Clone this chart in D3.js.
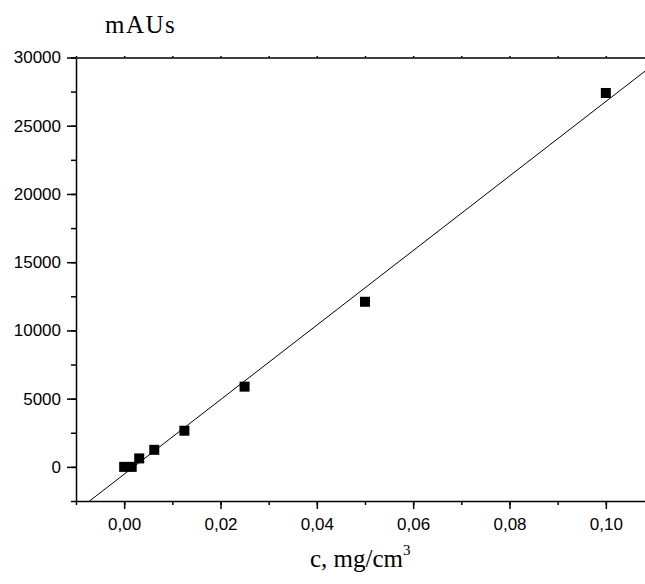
<!DOCTYPE html>
<html>
<head>
<meta charset="utf-8">
<script src="https://cdn.jsdelivr.net/npm/d3@7"></script>
<style>
  body { margin: 0; background: #fff; }
  svg { display: block; }
  .axis text { font-family: "Liberation Sans", Arial, sans-serif; font-size: 17px; fill: #000; }
  .axis path, .axis line { stroke: #000; stroke-width: 1.5; }
</style>
</head>
<body>
<svg id="chart" width="645" height="584"></svg>
<script>
// concentration (mg/cm3) and peak area (mAUs)
var conc = [0, 0.0015625, 0.003125, 0.00625, 0.0125, 0.025, 0.05, 0.1];
var area = [0, 0, 620, 1250, 2650, 5880, 12100, 27400];
var xTicks = [0, 0.02, 0.04, 0.06, 0.08, 0.10];
var yTicks = [0, 5000, 10000, 15000, 20000, 25000, 30000];

(function drawChart() {
  var svg = d3.select("#chart"),
    left = 76, right = 654, top = 57.5, bottom = 501;

  var x = d3.scaleLinear().domain([-0.01, 0.11]).range([left, right]),
    y = d3.scaleLinear().domain([-2500, 30000]).range([bottom, top]);

  var fmt = function (d) { return d3.format(".2f")(d).replace(".", ","); };

  // minor ticks first (no labels)
  svg.append("g")
    .attr("class", "axis")
    .attr("transform", "translate(0," + bottom + ")")
    .call(d3.axisBottom(x).tickValues(d3.range(-0.01, 0.111, 0.01)).tickSize(4).tickFormat("").tickSizeOuter(0));
  svg.append("g")
    .attr("class", "axis")
    .attr("transform", "translate(" + left + ",0)")
    .call(d3.axisLeft(y).tickValues(d3.range(-2500, 30001, 2500)).tickSize(5).tickFormat("").tickSizeOuter(0));

  // major ticks
  var xAxis = svg.append("g")
    .attr("class", "axis")
    .attr("transform", "translate(0," + bottom + ")")
    .call(d3.axisBottom(x).tickValues(xTicks).tickSize(8).tickPadding(9).tickFormat(fmt).tickSizeOuter(0));
  xAxis.select(".domain").remove();

  var yAxis = svg.append("g")
    .attr("class", "axis")
    .attr("transform", "translate(" + left + ",0)")
    .call(d3.axisLeft(y).tickValues(yTicks).tickSize(9).tickPadding(6).tickFormat(d3.format("d")).tickSizeOuter(0));
  yAxis.select(".domain").remove();

  // top axis with tiny ticks
  svg.append("g")
    .attr("class", "axis")
    .attr("transform", "translate(0," + top + ")")
    .call(d3.axisTop(x).tickValues(d3.range(-0.01, 0.111, 0.01)).tickSize(1.5).tickFormat("").tickSizeOuter(0));

  // linear fit
  var mx = d3.mean(conc), my = d3.mean(area);
  var sxy = d3.sum(conc, function (c, i) { return (c - mx) * (area[i] - my); }),
    sxx = d3.sum(conc, function (c) { return (c - mx) * (c - mx); });
  var slope = sxy / sxx, icept = my - slope * mx;

  svg.append("clipPath").attr("id", "clip")
    .append("rect").attr("x", left).attr("y", top).attr("width", right - left).attr("height", bottom - top);

  svg.append("line")
    .attr("clip-path", "url(#clip)")
    .attr("x1", x(-0.01)).attr("y1", y(slope * -0.01 + icept))
    .attr("x2", x(0.11)).attr("y2", y(slope * 0.11 + icept))
    .attr("stroke", "#000").attr("stroke-width", 1);

  var s = 10;
  svg.selectAll(".pt")
    .data(conc)
    .enter().append("rect")
    .attr("class", "pt")
    .attr("x", function (d) { return x(d) - s / 2; })
    .attr("y", function (d, i) { return y(area[i]) - s / 2; })
    .attr("width", s).attr("height", s)
    .attr("fill", "#000");

  // titles
  svg.append("text")
    .attr("x", 105).attr("y", 33)
    .attr("font-family", "'Liberation Serif', 'Times New Roman', serif")
    .attr("font-size", 25)
    .attr("letter-spacing", 1.5)
    .text("mAUs");

  var xl = svg.append("text")
    .attr("x", 310).attr("y", 567)
    .attr("font-family", "'Liberation Serif', 'Times New Roman', serif")
    .attr("font-size", 25);
  xl.append("tspan").text("c, mg/cm");
  xl.append("tspan").attr("font-size", 15).attr("dy", -12).text("3");
})();
</script>
</body>
</html>
